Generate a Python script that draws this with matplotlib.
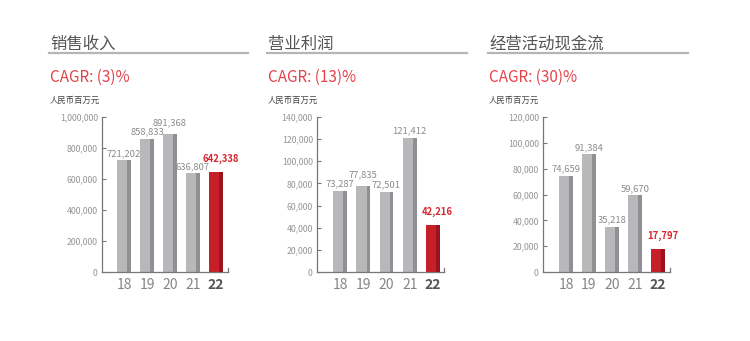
import matplotlib
matplotlib.use("Agg")
import matplotlib.pyplot as plt
from matplotlib.lines import Line2D

plt.rcParams['font.family'] = ['Noto Sans CJK SC', 'DejaVu Sans']

years = ["18", "19", "20", "21", "22"]
titles = ["销售收入", "营业利润", "经营活动现金流"]
cagr = ["CAGR: (3)%", "CAGR: (13)%", "CAGR: (30)%"]
unit = "人民币百万元"
revenue = [721202, 858833, 891368, 636807, 642338]
op_profit = [73287, 77835, 72501, 121412, 42216]
cash_flow = [74659, 91384, 35218, 59670, 17797]
series = [revenue, op_profit, cash_flow]
yticks = [
    [0, 200000, 400000, 600000, 800000, 1000000],
    [0, 20000, 40000, 60000, 80000, 100000, 120000, 140000],
    [0, 20000, 40000, 60000, 80000, 100000, 120000],
]

W, H = 750, 341
fig = plt.figure(figsize=(W / 100, H / 100), dpi=100)
fig.patch.set_facecolor("white")

# pixel layout: (axis left x, first bar x, bar step, axis right x, title x, underline end)
layout = [
    (102, 124, 23.0, 228, 50, 248),
    (317, 340, 23.25, 444, 268, 467),
    (543, 566, 23.0, 670, 489, 688),
]
top_px, bot_px = 117, 272

gray = "#b8b8bb"
gray_d = "#909094"
red = "#c71f28"
red_d = "#99141c"
txt_gray = "#8c8c8c"
lab_red = "#d8262f"

for i in range(3):
    axl, b0, step, axr, tx, ulx = layout[i]
    vals = series[i]
    xl = (axl - b0) / step
    xr = (axr - b0) / step
    ax = fig.add_axes([axl / W, 1 - bot_px / H, (axr - axl) / W, (bot_px - top_px) / H])
    x = list(range(len(years)))
    bw = 0.6
    sw = 0.15
    cols = [gray] * 4 + [red]
    dcols = [gray_d] * 4 + [red_d]
    ax.bar(x, vals, width=bw, color=cols, linewidth=0, zorder=2)
    ax.bar([xi + bw / 2 - sw / 2 for xi in x], vals, width=sw, color=dcols, linewidth=0, zorder=3)
    ax.set_xlim(xl, xr)
    ax.set_ylim(0, yticks[i][-1])
    ax.set_yticks(yticks[i])
    ax.set_yticklabels([f"{v:,}" for v in yticks[i]], fontsize=6.3, color="#959595")
    ax.set_xticks(x)
    ax.set_xticklabels(years, fontsize=10, color="#858585")
    lbls = ax.get_xticklabels()
    lbls[-1].set_fontweight("bold")
    lbls[-1].set_color("#555555")
    ax.tick_params(axis="x", length=0, pad=4)
    ax.tick_params(axis="y", direction="in", length=3, width=0.8, color="#777777", pad=3)
    for s in ["top", "right"]:
        ax.spines[s].set_visible(False)
    ax.spines["left"].set_color("#777777")
    ax.spines["bottom"].set_color("#777777")
    ax.spines["left"].set_linewidth(0.9)
    ax.spines["bottom"].set_linewidth(0.9)
    ax.set_facecolor("none")
    # small upward tick at right end of x-axis
    ax.plot([xr - 0.01, xr - 0.01], [0, yticks[i][-1] * 0.025], color="#777777", lw=0.9, clip_on=False, zorder=4)
    for j, v in enumerate(vals):
        if j == 4:
            ax.annotate(f"{v:,}", (j + 0.2, v), xytext=(0, 6), textcoords="offset points",
                        ha="center", va="bottom", fontsize=6.8, color=lab_red, fontweight="bold")
        else:
            # lift a label a little when it would collide with its left neighbour's label
            lift = 1.5
            if j > 0 and 0 < v - vals[j - 1] < yticks[i][-1] * 0.05:
                lift = 4.5
            ax.annotate(f"{v:,}", (j, v), xytext=(0, lift), textcoords="offset points",
                        ha="center", va="bottom", fontsize=6.8, color=txt_gray)

    # titles
    fig.text(tx / W, 1 - 44 / H, titles[i], fontsize=11.8, color="#555555", ha="left", va="center")
    fig.add_artist(Line2D([(tx - 1) / W, ulx / W], [1 - 53 / H, 1 - 53 / H], color="#b5b5b5", lw=1.6))
    fig.text(tx / W, 1 - 77 / H, cagr[i], fontsize=11, color="#e4434a", ha="left", va="center")
    fig.text(tx / W, 1 - 100 / H, unit, fontsize=6, color="#444444", ha="left", va="center")

fig.savefig("out.png", dpi=100, facecolor="white")
